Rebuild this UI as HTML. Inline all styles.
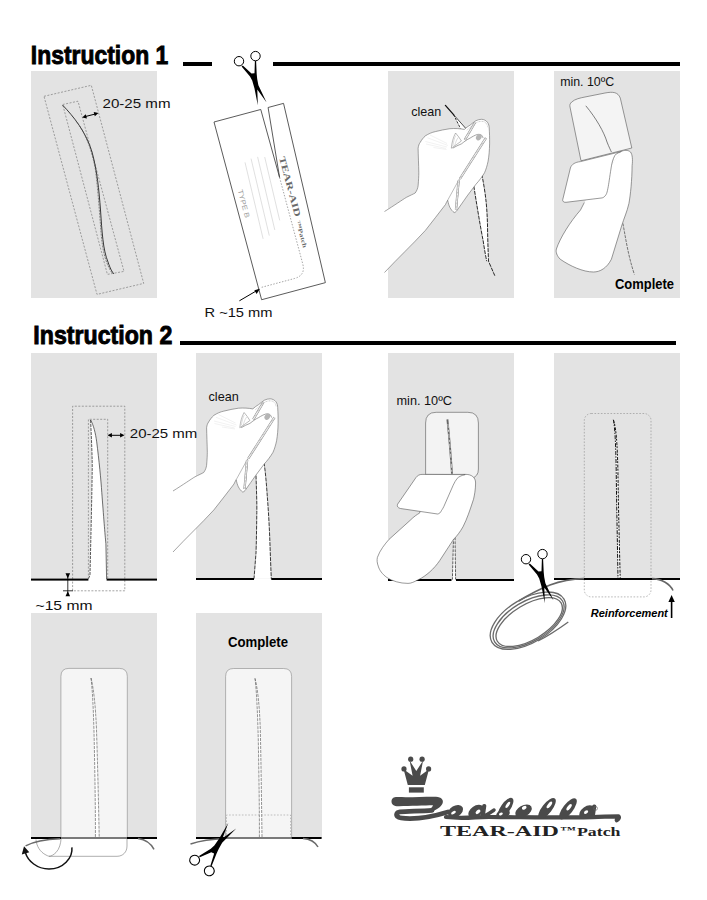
<!DOCTYPE html>
<html><head><meta charset="utf-8"><title>Instruction</title>
<style>
html,body{margin:0;padding:0;background:#fff;width:707px;height:900px;overflow:hidden;}
svg{display:block;}
text{font-family:"Liberation Sans",sans-serif;}
.pn{fill:#e3e3e3;}
.t{font-size:13.5px;fill:#111;}
.dot{fill:none;stroke:#7c7c7c;stroke-width:0.7;stroke-dasharray:2 1.5;}
.ol{fill:#fff;stroke:#555;stroke-width:0.6;}
</style></head><body>
<svg width="707" height="900" viewBox="0 0 707 900">
<!-- ===== Titles & rules ===== -->
<text x="30.8" y="64.2" font-size="26" font-weight="bold" fill="#000" stroke="#000" stroke-width="0.9" textLength="137.5" lengthAdjust="spacingAndGlyphs">Instruction 1</text>
<rect x="183" y="62" width="29" height="4" fill="#000"/>
<rect x="273" y="62" width="407" height="4" fill="#000"/>
<text x="33.3" y="344.2" font-size="26" font-weight="bold" fill="#000" stroke="#000" stroke-width="0.9" textLength="139" lengthAdjust="spacingAndGlyphs">Instruction 2</text>
<rect x="180" y="341" width="496" height="4" fill="#000"/>

<!-- ===== Row 1 panels ===== -->
<rect class="pn" x="31" y="71" width="126" height="227"/>
<rect class="pn" x="388" y="71" width="126" height="227"/>
<rect class="pn" x="554" y="71" width="126" height="227"/>

<!-- P1 -->
<polygon class="dot" points="44,96.3 91.3,85.3 143.7,283.4 97,294.4"/>
<polygon class="dot" points="62.7,104.5 78,101.2 124,271.4 107.4,274.4"/>
<path d="M62.5,105 C74,117 86,132 92,152 C97,170 99,190 100.5,210 C102,232 103,250 108,262 C110,268 112,272 114,274" fill="none" stroke="#222" stroke-width="0.9"/>
<path d="M76,121 C86,134 92,150 95.5,170 C98,190 99.5,212 101,232 C102.5,250 105,262 112,273" fill="none" stroke="#555" stroke-width="0.7" stroke-dasharray="2 1"/>
<line x1="84" y1="116.9" x2="96" y2="113.8" stroke="#000" stroke-width="1"/>
<path d="M82.2,117.4 L85.8,114.2 L86.9,118.4 Z M98.4,113.1 L94.8,116.3 L93.7,112.1 Z" fill="#000"/>
<text class="t" x="102.5" y="107.8" textLength="68" lengthAdjust="spacingAndGlyphs">20-25 mm</text>

<!-- Scissors row1 -->
<defs>
<g id="sc">
<path d="M241.6,66.4 L242.8,65.4 L251.5,73.6 L254.5,73.2 L254.9,61 L256.1,61 L256.7,74 L257.2,79 L258.4,85.3 L266.6,102.6 L257.3,89.5 L257.8,105.3 L254.5,88.5 L252.2,80.5 L250,76.5 Z" fill="#000"/>
<circle cx="239" cy="61.2" r="4.7" fill="#fff" stroke="#000" stroke-width="1"/>
<circle cx="255.5" cy="56.1" r="4.7" fill="#fff" stroke="#000" stroke-width="1"/>
</g>
</defs>
<use href="#sc"/>

<!-- P2 patch -->
<g transform="translate(214,122) rotate(-15)">
<path d="M0,0 L48.4,0 L49,70.6 L56,0 L72,0 L66,184 L0,184 Z" fill="#fff" stroke="#444" stroke-width="0.8" stroke-linejoin="miter"/>
<path d="M49,70.6 L49,160 Q49,172 37,172 L2,172" fill="none" stroke="#777" stroke-width="0.6" stroke-dasharray="1.5 1.5"/>
<g stroke="#d0d0d0" stroke-width="0.6">
<line x1="19.5" y1="47" x2="17.2" y2="125.6"/><line x1="26.3" y1="45" x2="24" y2="124"/><line x1="33.1" y1="45" x2="30.8" y2="120"/><line x1="39.9" y1="47" x2="38" y2="112"/>
</g>
<text transform="translate(5.2,72) rotate(90)" font-size="7" fill="#999" textLength="29" lengthAdjust="spacingAndGlyphs">TYPE B</text>
<text transform="translate(53.6,51) rotate(90)" style="font-family:'Liberation Serif',serif" font-weight="bold" font-size="9" fill="#6a6a6a" textLength="62" lengthAdjust="spacingAndGlyphs">TEAR-AID</text>
<text transform="translate(53.5,117) rotate(90)" style="font-family:'Liberation Serif',serif" font-weight="bold" font-size="6" fill="#6a6a6a" textLength="28" lengthAdjust="spacingAndGlyphs">™Patch</text>
</g>
<line x1="239.4" y1="300.8" x2="257.5" y2="290.2" stroke="#000" stroke-width="1"/>
<path d="M260,288.8 L254.4,290.3 L256.6,294 Z" fill="#000"/>
<text class="t" x="204.5" y="316.8" textLength="68" lengthAdjust="spacingAndGlyphs">R ~15 mm</text>

<!-- P3 -->
<path d="M473.8,186 C476,200 480,225 483.2,241 C484.5,250 486,258 486.8,261.2 L488.5,261.2 C488,245 487.6,230 487.5,225 C487,210 486.5,198 481.7,173.7 Z" fill="#fff"/>
<path d="M473.8,186 C476,200 480,225 483.2,241 C484.5,250 486,258 486.8,261.2" fill="none" stroke="#111" stroke-width="0.9" stroke-dasharray="4 1"/>
<path d="M481.7,173.7 C486.5,198 487,210 487.5,225 C487.6,235 488,248 488.5,261.2 L494.8,275.7" fill="none" stroke="#111" stroke-width="0.9" stroke-dasharray="4 1"/>
<path d="M453.6,114.7 L467.7,130.6 L460.4,128.3 Z" fill="#fff"/>
<line x1="445.4" y1="105.4" x2="453.8" y2="114.9" stroke="#111" stroke-width="1.3" stroke-linecap="round"/>
<line x1="453.6" y1="114.7" x2="467.7" y2="130.6" stroke="#222" stroke-width="0.8"/>
<path d="M453.6,114.7 L460.4,128.3" stroke="#222" stroke-width="0.9" stroke-dasharray="2.5 1.2"/>
<text class="t" x="411.3" y="116" font-size="13" textLength="30" lengthAdjust="spacingAndGlyphs">clean</text>
<g id="hand">
<path d="M384.5,211.5 C395,205 402,200 406.5,197.3 C410,195.5 413.5,194 415.2,193 C417,190.5 417.8,188 418.1,185.8 C418.6,180 418.8,176 418.8,172.8 C418.7,165 418.2,155 418.1,148.2 C418.5,145.5 419,144 420.2,142.4 C421.5,140 423.5,137.5 425.3,135.9 C428.5,133.8 432,132.3 435.4,131.6 C440,130.5 445,129.3 449.9,128.7 C455,128.3 460,128.6 464.3,129.4 C466,127.8 468,126.3 470.1,125.1 C472,123.5 474,122 475.9,120.7 C477.8,119.8 479.6,119.3 481.6,119.3 C484,119.4 486,120.5 487.4,122.2 C488.7,124 489.2,126 489.2,128 C489.5,133 489.7,138 489.6,143.9 C489.5,150 489,156 488.1,161.2 C487.2,165.5 486,169.5 484.5,172.8 C482,177 479,181 475.9,184.3 L467.2,195.9 C464,200.5 460.5,205.5 457.1,210.3 C456.3,211.5 455.2,212.5 454.2,212.5 C452.5,211.5 451,209.5 449.9,207.4 C449,205.5 448.2,203 447.7,200.2 C446.5,202 446,203.5 445.5,204.5 C439,213 432,222 425.3,230.5 C412,245 398,258 384.5,272.5" fill="#fff" stroke="#666" stroke-width="0.6" stroke-linejoin="round"/>
<path d="M447.7,200.2 L459.2,179.3 M456.4,208.9 C457.5,199 458.5,188 459.2,179.3" fill="none" stroke="#777" stroke-width="0.5"/>
<path id="hb" d="M459.8,179 L486,137.8 M456,209.5 C457,199 457.8,189 458.6,180.5 M464.8,139.8 L475,122.5" fill="none" stroke="#888" stroke-width="2.3"/>
<path d="M459.8,179 L486,137.8 M456,209.5 C457,199 457.8,189 458.6,180.5 M464.8,139.8 L475,122.5" fill="none" stroke="#fff" stroke-width="1.3"/>
<path d="M459.8,179 L486,137.8 M456,209.5 C457,199 457.8,189 458.6,180.5 M464.8,139.8 L475,122.5" fill="none" stroke="#aaa" stroke-width="1.3" stroke-dasharray="0.5 0.9"/>
<path d="M466.8,130.2 C469,128.3 472.5,125.5 476.5,122.6 C479,121.3 482,121 484.2,121.8 C486.3,122.8 487.5,124.8 487.7,127.5" fill="none" stroke="#999" stroke-width="0.5" stroke-dasharray="0.9 0.6"/>
<path d="M452.7,148.2 C455.5,146.5 458.5,145 461.4,143.9 C464.5,141.5 467,139.5 470.1,138.1 C472.5,136.5 475,135.2 477.3,134.5 C479,134.2 480.6,134.4 481.6,135.2 C482.4,136 482.9,137 483.1,138.1" fill="none" stroke="#666" stroke-width="0.6"/>
<ellipse cx="478.8" cy="137.3" rx="2.6" ry="3.3" fill="#b5b5b5" transform="rotate(35 478.8 137.3)"/>
<path d="M451.3,148.2 C451.8,143 453.2,137 455.6,133 C457.8,135.5 459.8,138.3 461.4,141 C458,143.5 454.5,146 451.3,148.2 Z" fill="#fff" stroke="#777" stroke-width="0.5"/>
<path d="M452.8,146 C453.5,141.5 454.5,137.5 455.8,135.5 M454.5,146.5 C455.5,142.5 456.8,139 458.2,137.5" fill="none" stroke="#aaa" stroke-width="0.4"/>
<path d="M425.5,141.5 L447,147 M426,144 L446,148.5 M427.5,137.8 L448,145.5 M430,135 L447,143.5 M433.5,147.5 L446.5,149.5" stroke="#d8d8d8" stroke-width="0.35"/>
</g>

<!-- P4 -->
<text class="t" x="560.2" y="85.9" font-size="12.5" textLength="54" lengthAdjust="spacingAndGlyphs">min. 10ºC</text>
<path d="M571.7,102 C575,99 580,98 585,97 L605,93 C613,91.5 618,92 620.3,98.1 L631.8,148 L581,160.8 L570,107 C569.6,105 570,103.5 571.7,102 Z" fill="#f4f4f4" stroke="#555" stroke-width="0.6"/>
<path d="M585.8,105.8 C596,118 604,132 607,142 C609,147 610.5,150 611.4,152" fill="none" stroke="#555" stroke-width="0.75"/>
<path d="M622.9,223.4 C626,240 628,255 634.4,274.5" fill="none" stroke="#444" stroke-width="0.7" stroke-dasharray="3 1"/>
<path d="M621.3,151.5 C624,150 628,149.8 630.5,152 C632.5,154.5 632.8,160 632.1,165.5 C632,180 630.5,195 628.9,203.6 C627,212 624,218 621.6,226 L611.4,259.2 C607,268 600,272 593.5,272 C583,272 570,266 560.2,259.2 C557,256 555.5,252 556.4,249 C560,238 570,222 580.5,210 L584.4,202.4" fill="#fff" stroke="#555" stroke-width="0.6" stroke-linejoin="round"/>
<path d="M584.4,202.4 L600,199 L615,155 L621.3,151.5 Z" fill="#fff"/>
<path d="M580.5,161.6 L621.3,151.5 C617.5,153 615.8,154.3 614.9,155.3 C612.6,159.5 611.6,164.5 611.1,168 C609.6,177.5 608.8,184 607.9,188.4 C607.3,191.3 606.9,193.3 606,194.7 C605,196.3 603.6,197.6 602.2,197.9 L566,202.3 C563.7,202.5 562.4,201.2 562.7,199.8 L570.4,168 C571.6,164.3 575,162.2 580.5,161.6 Z" fill="#fff" stroke="#555" stroke-width="0.6" stroke-linejoin="round"/>
<text x="615" y="288.6" font-size="14" font-weight="bold" fill="#000" textLength="59" lengthAdjust="spacingAndGlyphs">Complete</text>

<!-- ===== Row 2 panels ===== -->
<rect class="pn" x="31" y="353" width="126" height="226"/>
<rect class="pn" x="196" y="353" width="126" height="226"/>
<rect class="pn" x="388" y="353" width="126" height="226"/>
<rect class="pn" x="554" y="353" width="126" height="226"/>

<!-- P5 -->
<path d="M90.6,420 C91.5,440 92.4,460 92.2,470 C91.8,500 90.8,540 90,575 L88.4,579 L106.6,579 L105.9,543.7 C105,535 103.5,515 101.8,492.7 C101,480 99,460 96.7,441.8 C95.5,433 93.5,425 90.6,420 Z" fill="#fff"/>
<path d="M90.6,420 C91.5,440 92.4,460 92.2,470 C91.8,500 90.8,540 90,575 L88.4,579" fill="none" stroke="#333" stroke-width="0.8" stroke-dasharray="3 1"/>
<path d="M90.6,420 C93.5,425 95.5,433 96.7,441.8 C99,460 101,480 101.8,492.7 C103.5,515 105,535 105.9,543.7 L106.6,579" fill="none" stroke="#333" stroke-width="0.7"/>
<path class="dot" d="M72.6,579 L72.6,406.2 L124.8,406.2 L124.8,590.8 L72.6,590.8 L72.6,579"/>
<path class="dot" d="M88.4,579 L88.4,419.3 L107.7,419.3 L107.7,579"/>
<rect x="31" y="578.6" width="57.4" height="2" fill="#000"/>
<rect x="106.6" y="578.6" width="50.4" height="2" fill="#000"/>
<line x1="109.5" y1="435.3" x2="122.5" y2="435.3" stroke="#000" stroke-width="1"/>
<path d="M107.5,435.3 L111.9,433.1 L111.9,437.5 Z M124.5,435.3 L120.1,433.1 L120.1,437.5 Z" fill="#000"/>
<text class="t" x="129.8" y="438.2" textLength="67.5" lengthAdjust="spacingAndGlyphs">20-25 mm</text>
<line x1="67.8" y1="576" x2="67.8" y2="596" stroke="#000" stroke-width="0.8"/>
<line x1="63" y1="590.8" x2="73" y2="590.8" stroke="#000" stroke-width="0.8"/>
<path d="M65.5,573.2 L70.1,573.2 L67.8,578.4 Z M65.5,596.2 L70.1,596.2 L67.8,591.2 Z" fill="#000"/>
<text class="t" x="35.5" y="609.6" textLength="57" lengthAdjust="spacingAndGlyphs">~15 mm</text>

<!-- P6 -->
<path d="M256,475.5 C256.5,490 257,505 256.8,512.6 C256.6,530 256.3,545 256,553 L254,578.7 L271.3,578.7 C270.5,560 270,545 269.7,536.8 C269,520 268,505 267.3,496.5 C266.5,485 265.5,472 264,462.6 Z" fill="#fff"/>
<path d="M256,475.5 C256.5,490 257,505 256.8,512.6 C256.6,530 256.3,545 256,553 L254,578.7" fill="none" stroke="#222" stroke-width="0.9" stroke-dasharray="4 1"/>
<path d="M264,462.6 C265.5,472 266.5,485 267.3,496.5 C268,505 269,520 269.7,536.8 C270,545 270.5,560 271.3,578.7" fill="none" stroke="#222" stroke-width="0.9" stroke-dasharray="4 1"/>
<rect x="196" y="578" width="58" height="2" fill="#000"/>
<rect x="271.3" y="578" width="50.7" height="2" fill="#000"/>
<use href="#hand" transform="translate(-211.5,279.5)"/>
<text class="t" x="208.5" y="401" font-size="13" textLength="30.3" lengthAdjust="spacingAndGlyphs">clean</text>

<!-- P7 -->
<text class="t" x="396.5" y="404.9" font-size="12.5" textLength="55.5" lengthAdjust="spacingAndGlyphs">min. 10ºC</text>
<path d="M425.6,480 L425.6,423 Q425.6,412.3 436.2,412.3 L467.8,412.3 Q478.4,412.3 478.4,423 L478.4,469 Q478.4,476.5 472,478 L430,480 Z" fill="#f3f3f3" stroke="#555" stroke-width="0.6"/>
<path d="M447.4,419.3 C449,435 450.8,455 452,473.8" fill="none" stroke="#666" stroke-width="1.9"/>
<path d="M447.9,424 C449.2,438 450.8,455 451.8,472" fill="none" stroke="#f3f3f3" stroke-width="0.7" stroke-dasharray="4 2 2 2"/>
<path d="M453.5,537.3 L452.4,579.6 L455.6,579.6 L455,537.3 Z" fill="#fff"/>
<path d="M453.5,537.3 L452.4,579.6 M455,537.3 L455.6,579.6" stroke="#333" stroke-width="0.8" stroke-dasharray="3 1"/>
<rect x="388" y="579" width="63.5" height="2" fill="#000"/>
<rect x="456" y="579" width="58" height="2" fill="#000"/>
<path d="M426,474.4 L466,474.4 C471,474.4 475.6,477 475.6,483 C475.5,490 474.5,495 473.5,499.3 C470,510 467,519 463,526.8 C460,532 457,536 453.5,539.4 L439.7,560.6 C434,569 426,576 418.6,579.6 C414,582 411,583.4 408,583.4 C400,583.4 392,581 386.9,577.5 C382,574 379.5,570 378.5,566.9 C377,563 376.8,560 377.4,557.4 C380,550 385,544 389,539.4 L410.1,520.4 C414,516.5 417,514.5 419.7,513 Z" fill="#fff" stroke="#555" stroke-width="0.6" stroke-linejoin="round"/>
<path d="M422,474.4 L465.2,474.6 C461,475.5 458.5,477 457.2,478.4 C455.5,480.5 454.5,482.5 453.2,485.2 L444.5,505 C443.5,507.5 442.5,509 441.5,510.5 C440.5,512.5 439.5,513.8 437.5,514 L400.5,508.5 C397.8,508 396.8,506.2 397.6,504.2 L416,477.5 C417.5,475.5 419.5,474.4 422,474.4 Z" fill="#fff" stroke="#555" stroke-width="0.6" stroke-linejoin="round"/>

<!-- P8 -->
<rect x="584.3" y="413.5" width="66.7" height="183.4" rx="7" fill="none" stroke="#8a8a8a" stroke-width="0.6" stroke-dasharray="1.6 1.6"/>
<path d="M613.3,419.7 C615.5,428 616.5,445 617,470 C617.5,510 618.5,545 619.2,578.5" fill="none" stroke="#fff" stroke-width="1.6"/>
<path d="M613.3,419.7 C615,428 615.8,445 616.2,470 C616.7,510 617.5,545 618,578.5" fill="none" stroke="#111" stroke-width="1" stroke-dasharray="4 1.2 1.5 1.2"/>
<path d="M613.5,420 C616.2,428 617.3,445 617.9,470 C618.4,510 619.4,545 620.2,578.5" fill="none" stroke="#111" stroke-width="1" stroke-dasharray="3 1 2 1.5"/>
<rect x="554" y="578" width="126" height="2" fill="#000"/>
<path d="M584,578.6 C570,579 558,582 550,585 C540,589 530,594 518.6,601 M652,578.6 C662,579 670,584 673,590.5" fill="none" stroke="#666" stroke-width="1.6"/>
<g fill="none" stroke="#6a6a6a" stroke-width="1.3">
<ellipse cx="528" cy="620.7" rx="42" ry="22" transform="rotate(-31 528 620.7)"/>
<ellipse cx="528.6" cy="621.4" rx="39.6" ry="19.8" transform="rotate(-31 528.6 621.4)"/>
<ellipse cx="529.2" cy="622.1" rx="37.2" ry="17.6" transform="rotate(-31 529.2 622.1)"/>
<path d="M538,641 C548,636 560,628 568.3,622"/>
</g>
<use href="#sc" transform="translate(287,498)"/>
<text x="590.8" y="616.6" font-size="11" font-weight="bold" font-style="italic" fill="#000" textLength="77" lengthAdjust="spacingAndGlyphs">Reinforcement</text>
<line x1="671.6" y1="600" x2="671.6" y2="618" stroke="#000" stroke-width="1.6"/>
<path d="M668.4,602 L674.8,602 L671.6,595 Z" fill="#000"/>

<!-- ===== Row 3 panels ===== -->
<rect class="pn" x="31" y="613" width="126" height="225"/>
<rect class="pn" x="196" y="613" width="126" height="225"/>

<!-- P9 -->
<path d="M60.9,838 L60.9,676.4 Q60.9,668.4 68.9,668.4 L119.3,668.4 Q127.3,668.4 127.3,676.4 L127.3,838 Z" fill="#f5f5f5" stroke="#888" stroke-width="0.6"/>
<path d="M91,678 C92.5,690 93.5,710 94.2,740 C95,780 95.5,810 95.4,837 L99.2,837 C98.5,800 97.5,760 96.5,730 C95.5,705 93.5,688 91,678 Z" fill="#fff"/>
<path d="M91,678 C92.5,690 93.5,710 94.2,740 C95,780 95.5,810 95.4,837 M91,678 C93.5,688 95.5,705 96.5,730 C97.5,760 98.5,800 99.2,837" fill="none" stroke="#666" stroke-width="0.7" stroke-dasharray="3 1"/>
<rect x="31" y="837" width="30" height="2" fill="#000"/>
<rect x="61" y="837" width="66" height="2" fill="#7a7a7a"/>
<rect x="127" y="837" width="30" height="2" fill="#000"/>
<path d="M61,839 C60.8,843 59.5,849 56,852.5 C53.5,855 51,856.2 49,856.3 L117,856.3 C123,856.3 127,852 127,846 L127,839" fill="none" stroke="#777" stroke-width="0.6"/>
<path d="M36,839.5 C36.5,846 40,852 46,855 C47,855.5 48,856 49,856.3" fill="none" stroke="#777" stroke-width="0.6"/>
<path d="M25.6,845.8 C33,842 45,839.5 60,838.8" fill="none" stroke="#6a6a6a" stroke-width="1.5"/>
<path d="M138,838.5 C145,839.5 151,843.5 154,849.4" fill="none" stroke="#6a6a6a" stroke-width="1.5"/>
<path d="M71.9,847.3 C73,858 63,869 49,869 C37,869 28,861 25.5,853" fill="none" stroke="#111" stroke-width="1.5"/>
<path d="M21.8,854.5 L24,846.2 L29.3,852.2 Z" fill="#111"/>

<!-- P10 -->
<text x="228" y="646.6" font-size="14" font-weight="bold" fill="#000" textLength="60" lengthAdjust="spacingAndGlyphs">Complete</text>
<path d="M225.6,838 L225.6,676.5 Q225.6,668.5 233.6,668.5 L283.6,668.5 Q291.6,668.5 291.6,676.5 L291.6,838 Z" fill="#f5f5f5" stroke="#888" stroke-width="0.6"/>
<path d="M226.5,838 L226.5,815 L290.5,815 L290.5,838" fill="none" stroke="#999" stroke-width="0.6" stroke-dasharray="1.6 1.6"/>
<path d="M255,678.4 C256.5,690 257.5,710 258.3,740 C259,780 259.5,810 259.4,837 L262,837 C261.5,800 261,760 260.3,730 C259.5,705 257.5,688 255,678.4 Z" fill="#fff"/>
<path d="M255,678.4 C256.5,690 257.5,710 258.3,740 C259,780 259.5,810 259.4,837 M255,678.4 C257.5,688 259.5,705 260.3,730 C261,760 261.5,800 262,837" fill="none" stroke="#666" stroke-width="0.7" stroke-dasharray="3 1"/>
<rect x="196" y="837" width="29.6" height="2" fill="#000"/>
<rect x="225.6" y="837" width="66" height="2" fill="#7a7a7a"/>
<rect x="291.6" y="837" width="30" height="2" fill="#000"/>
<path d="M303,838.5 C310,839 315.5,842.5 318,847" fill="none" stroke="#6a6a6a" stroke-width="1.5"/>
<path d="M190.5,844 C200,841 212,839.2 225,838.6" fill="none" stroke="#6a6a6a" stroke-width="1.5"/>
<use href="#sc" transform="translate(214.6,850.6) rotate(199) scale(-1.05,1.05) translate(-254,-76)"/>

<!-- Logo -->
<g fill="#4a4a4a">
<circle cx="410.7" cy="759.2" r="2.6"/><circle cx="422.1" cy="759.2" r="2.6"/>
<circle cx="404" cy="768.9" r="2.6"/><circle cx="428.6" cy="768.9" r="2.6"/>
<polygon points="403.6,769.3 412.6,775.7 409.6,760.5 416.3,771.1 423.1,760.5 420.1,775.7 429,769.3 424.8,784.9 407.8,784.9"/>
<rect x="408.9" y="787.3" width="14.9" height="5.3"/>
</g>
<path d="M391.5,801.5 C391.5,798 394,796.8 398,797 C410,797.5 425,796.5 436,796.7 C441.5,797 444,800 442.5,803.5 C441,807 436.5,810 431,812 L427,812 C430,809.5 432.5,807 433,805.3 C425,805.5 410,805.8 399,806.3 C394,806.5 391.5,804.5 391.5,801.5 Z" fill="#4a4a4a"/>
<g fill="none" stroke="#4a4a4a" stroke-width="4.8" stroke-linecap="round" stroke-linejoin="round">
<path d="M432,810.3 C420,811 407,811.3 400,811.8 C396.5,812.3 395.8,814.8 397.5,816.6 C399.5,818.5 404,818.7 410,818.7 C422,818.5 435,816 448,812"/>
<path d="M446,817 C455,818 465,818 475,817.3 C490,816.5 505,817.5 520,817.2 C540,817.3 560,817.6 580,817.3 C595,817 608,816.3 618.5,816.3 C619.5,817.5 618.5,819.3 616.8,820.2" stroke-width="4.2"/>
<path d="M484.2,806 L482.6,817 M594.2,806.5 L592.6,817" stroke-width="4.2"/>
<path d="M482.5,816.5 C487,815 491,812 494,810" stroke-width="3.5"/>
</g>
<g fill="#4a4a4a">
<ellipse cx="455.5" cy="811.3" rx="8.2" ry="5.6" transform="rotate(-30 455.5 811.3)"/>
<ellipse cx="476" cy="811.5" rx="8.6" ry="5.6" transform="rotate(-35 476 811.5)"/>
<ellipse cx="505.5" cy="808" rx="12" ry="4.8" transform="rotate(-55 505.5 808)"/>
<ellipse cx="503" cy="814" rx="7" ry="4.6" transform="rotate(-20 503 814)"/>
<ellipse cx="523.5" cy="811" rx="9" ry="5.6" transform="rotate(-30 523.5 811)"/>
<ellipse cx="547" cy="808.5" rx="12.8" ry="5" transform="rotate(-52 547 808.5)"/>
<ellipse cx="568" cy="808.8" rx="12.8" ry="5" transform="rotate(-52 568 808.8)"/>
<ellipse cx="587" cy="812" rx="8.6" ry="5.6" transform="rotate(-35 587 812)"/>
</g>
<g fill="#fff">
<ellipse cx="453.5" cy="812.6" rx="2.6" ry="1.4" transform="rotate(-30 453.5 812.6)"/>
<ellipse cx="478" cy="811.8" rx="2.8" ry="1.7" transform="rotate(-40 478 811.8)"/>
<ellipse cx="507.8" cy="804.9" rx="3.6" ry="1.4" transform="rotate(-55 507.8 804.9)"/>
<ellipse cx="500.9" cy="814" rx="2" ry="1.2" transform="rotate(-20 500.9 814)"/>
<ellipse cx="524.2" cy="807.8" rx="2.5" ry="1.7" transform="rotate(-30 524.2 807.8)"/>
<ellipse cx="549.4" cy="804.9" rx="4" ry="1.6" transform="rotate(-52 549.4 804.9)"/>
<ellipse cx="569.1" cy="807.3" rx="3.8" ry="1.6" transform="rotate(-52 569.1 807.3)"/>
<ellipse cx="586.1" cy="812.1" rx="2.3" ry="1.5" transform="rotate(-35 586.1 812.1)"/>
</g>
<circle cx="595.6" cy="808.4" r="1.9" fill="none" stroke="#666" stroke-width="0.6"/>
<text x="440" y="836.2" style="font-family:'Liberation Serif',serif" font-weight="bold" font-size="15" fill="#222" textLength="119" lengthAdjust="spacingAndGlyphs">TEAR-AID</text>
<text x="560.5" y="833" style="font-family:'Liberation Serif',serif" font-weight="bold" font-size="9" fill="#222" textLength="15.5" lengthAdjust="spacingAndGlyphs">™</text>
<text x="577" y="836.2" style="font-family:'Liberation Serif',serif" font-weight="bold" font-size="11.5" fill="#222" textLength="43.5" lengthAdjust="spacingAndGlyphs">Patch</text>

</svg>
</body></html>
